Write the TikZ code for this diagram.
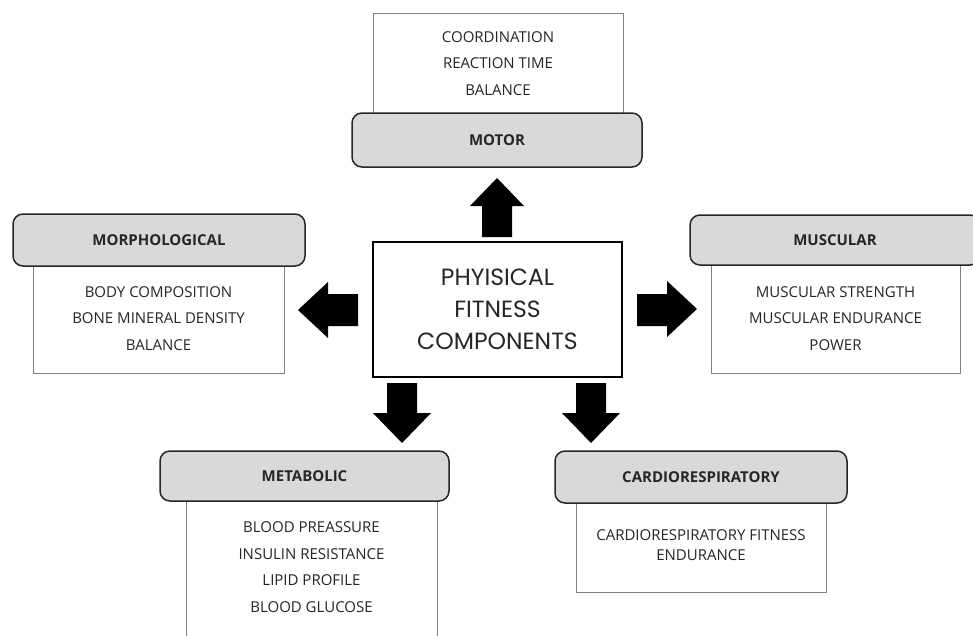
\documentclass[tikz,border=0pt]{standalone}
\usepackage{fontspec}
\setmainfont{Open Sans}
\newfontfamily\pop{Poppins}
\definecolor{hdrfill}{HTML}{D9D9D9}
\definecolor{hdrline}{HTML}{262626}
\definecolor{txtline}{HTML}{7F7F7F}
\definecolor{txt}{HTML}{262626}
\begin{document}
\begin{tikzpicture}[x=1pt,y=-1pt,
  itembox/.style={draw=txtline, line width=0.9pt, fill=white, inner sep=0pt},
  hdrbox/.style={draw=hdrline, line width=1.5pt, fill=hdrfill, rounded corners=10pt, inner sep=0pt,
     font=\fontsize{15}{17}\selectfont\bfseries, text=txt},
  items/.style={align=center, inner sep=0pt, text=txt, font=\fontsize{15}{26.5}\selectfont},
  blockarrow/.style={fill=black}]
\useasboundingbox (0,0) rectangle (973,635);

% central box
\node[draw=black, line width=2.8pt, minimum width=249pt, minimum height=135pt, inner sep=0pt] (c) at (497.5,309.5) {};
\node[align=center, inner sep=0pt, font=\pop\fontsize{23.5}{32}\selectfont, text=txt] (ct) at (c.center) {PHYISICAL\\FITNESS\\COMPONENTS};

% motor
\node[itembox, minimum width=250pt, minimum height=104pt] (mob) at (498,65) {};
\node[items] (mot) at (498,63.5) {COORDINATION\\REACTION TIME\\BALANCE};
\node[hdrbox, minimum width=290pt, minimum height=54pt] (mo) at (497,140) {MOTOR};

% morphological
\node[itembox, minimum width=251pt, minimum height=108pt] (mpb) at (158.5,319) {};
\node[items] (mpt) at (158.5,318.5) {BODY COMPOSITION\\BONE MINERAL DENSITY\\BALANCE};
\node[hdrbox, minimum width=292pt, minimum height=52pt] (mp) at (159,240) {MORPHOLOGICAL};

% muscular
\node[itembox, minimum width=249pt, minimum height=108pt] (mub) at (835.5,319) {};
\node[items] (mut) at (835.5,318.5) {MUSCULAR STRENGTH\\MUSCULAR ENDURANCE\\POWER};
\node[hdrbox, minimum width=290pt, minimum height=50pt] (mu) at (835,240) {MUSCULAR};

% metabolic
\node[itembox, minimum width=251pt, minimum height=160pt] (meb) at (311.5,580) {};
\node[items] (met) at (311.5,567) {BLOOD PREASSURE\\INSULIN RESISTANCE\\LIPID PROFILE\\BLOOD GLUCOSE};
\node[hdrbox, minimum width=289pt, minimum height=50pt] (me) at (304.5,476) {METABOLIC};

% cardiorespiratory
\node[itembox, minimum width=250pt, minimum height=90pt] (cab) at (701,547) {};
\node[items, font=\fontsize{15}{20}\selectfont] (cat) at (701,545) {CARDIORESPIRATORY FITNESS\\ENDURANCE};
\node[hdrbox, minimum width=292pt, minimum height=52pt] (ca) at (701,477) {CARDIORESPIRATORY};

% block arrows
\fill[blockarrow] (482,237) -- (482,206) -- (470,206) -- (497,178) -- (524,206) -- (512,206) -- (512,237) -- cycle;
\fill[blockarrow] (358,294) -- (328,294) -- (328,282) -- (298,310) -- (328,338) -- (328,326) -- (358,326) -- cycle;
\fill[blockarrow] (637,294) -- (667,294) -- (667,281) -- (697,309) -- (667,337) -- (667,326) -- (637,326) -- cycle;
\fill[blockarrow] (387,383) -- (417,383) -- (417,413) -- (431,413) -- (402,443) -- (373,413) -- (387,413) -- cycle;
\fill[blockarrow] (576,383) -- (606,383) -- (606,413) -- (620,413) -- (591,443) -- (562,413) -- (576,413) -- cycle;
\end{tikzpicture}
\end{document}
